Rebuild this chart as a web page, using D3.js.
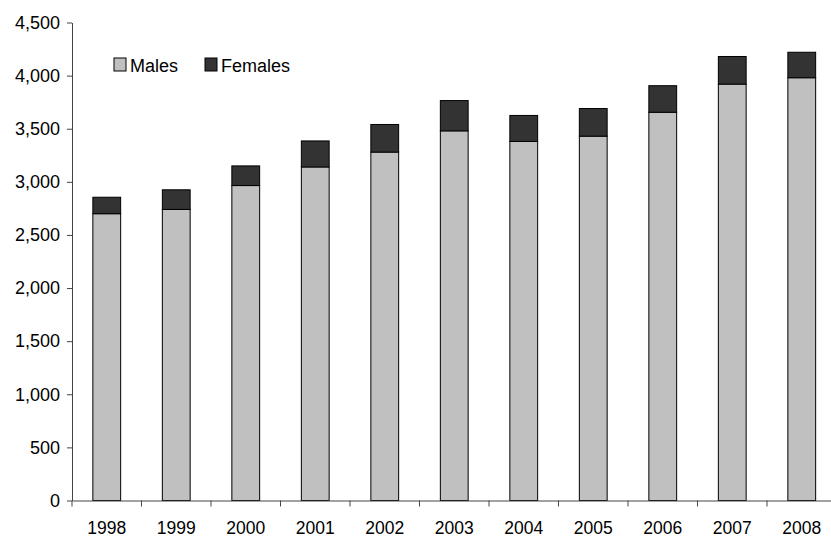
<!DOCTYPE html>
<html>
<head>
<meta charset="utf-8">
<script src="https://cdn.jsdelivr.net/npm/d3@7"></script>
<style>
  body { margin: 0; background: #fff; }
  svg text { font-family: "Liberation Sans", Arial, sans-serif; fill: #000; }
</style>
</head>
<body>
<div id="chart"></div>
<script>
// values
const years = ["1998", "1999", "2000", "2001", "2002", "2003", "2004", "2005", "2006", "2007", "2008"];
const males = [2700, 2740, 2965, 3140, 3280, 3480, 3380, 3430, 3655, 3920, 3980];
const females = [155, 185, 185, 245, 260, 285, 245, 260, 250, 260, 240];
const yTicks = [0, 500, 1000, 1500, 2000, 2500, 3000, 3500, 4000, 4500];
const seriesNames = ["Males", "Females"];

const width = 831, height = 537;
const margin = { top: 22.5, left: 72, bottom: 36.5 };
const colors = { Males: "#c0c0c0", Females: "#333333" };

const svg = d3.select("#chart").append("svg")
  .attr("width", width)
  .attr("height", height);

// the plot runs a little past the right edge, as in the picture
const x = d3.scaleBand()
  .domain(years)
  .range([margin.left, margin.left + years.length * 69.5])
  .paddingInner(0.6)
  .paddingOuter(0.3);

const y = d3.scaleLinear()
  .domain([0, 4500])
  .range([height - margin.bottom, margin.top]);

const rows = years.map((yr, i) => ({ year: yr, Males: males[i], Females: females[i] }));
const stacked = d3.stack().keys(seriesNames)(rows);

svg.append("g")
  .selectAll("g")
  .data(stacked)
  .enter().append("g")
    .attr("fill", d => colors[d.key])
  .selectAll("rect")
  .data(d => d)
  .enter().append("rect")
    .attr("x", d => x(d.data.year))
    .attr("width", x.bandwidth())
    .attr("y", d => y(d[1]))
    .attr("height", d => y(d[0]) - y(d[1]))
    .attr("stroke", "#000")
    .attr("stroke-width", 1);

// y axis
let axisY = svg.append("g")
  .attr("transform", `translate(${margin.left},0)`)
  .call(d3.axisLeft(y).tickValues(yTicks).tickFormat(d3.format(",")).tickSize(5).tickPadding(7).tickSizeOuter(0));
axisY.selectAll("text").style("font-size", "18px");
axisY.selectAll("path, line").attr("stroke", "#444");

// x axis: labels centred, ticks on category boundaries
let axisX = svg.append("g")
  .attr("transform", `translate(0,${y(0)})`)
  .call(d3.axisBottom(x).tickSize(0).tickPadding(0).tickSizeOuter(0));
axisX.selectAll("text")
  .style("font-size", "17.5px")
  .attr("dy", null)
  .attr("y", 33);
axisX.select(".domain").attr("stroke", "#444");

let gap = (x.step() - x.bandwidth()) / 2;
axisX.selectAll("line.bound")
  .data(years)
  .enter().append("line")
    .attr("class", "bound")
    .attr("x1", d => x(d) - gap)
    .attr("x2", d => x(d) - gap)
    .attr("y1", 0)
    .attr("y2", 6)
    .attr("stroke", "#444");

// legend
let legendX = [114, 205];
let legend = svg.append("g")
  .selectAll("g")
  .data(seriesNames)
  .enter().append("g")
    .attr("transform", (d, i) => `translate(${legendX[i]},58)`);

legend.append("rect")
  .attr("width", 12)
  .attr("height", 13)
  .attr("fill", d => colors[d])
  .attr("stroke", "#000");

legend.append("text")
  .attr("x", 16)
  .attr("y", 13.5)
  .style("font-size", "18px")
  .text(d => d);
</script>
</body>
</html>
